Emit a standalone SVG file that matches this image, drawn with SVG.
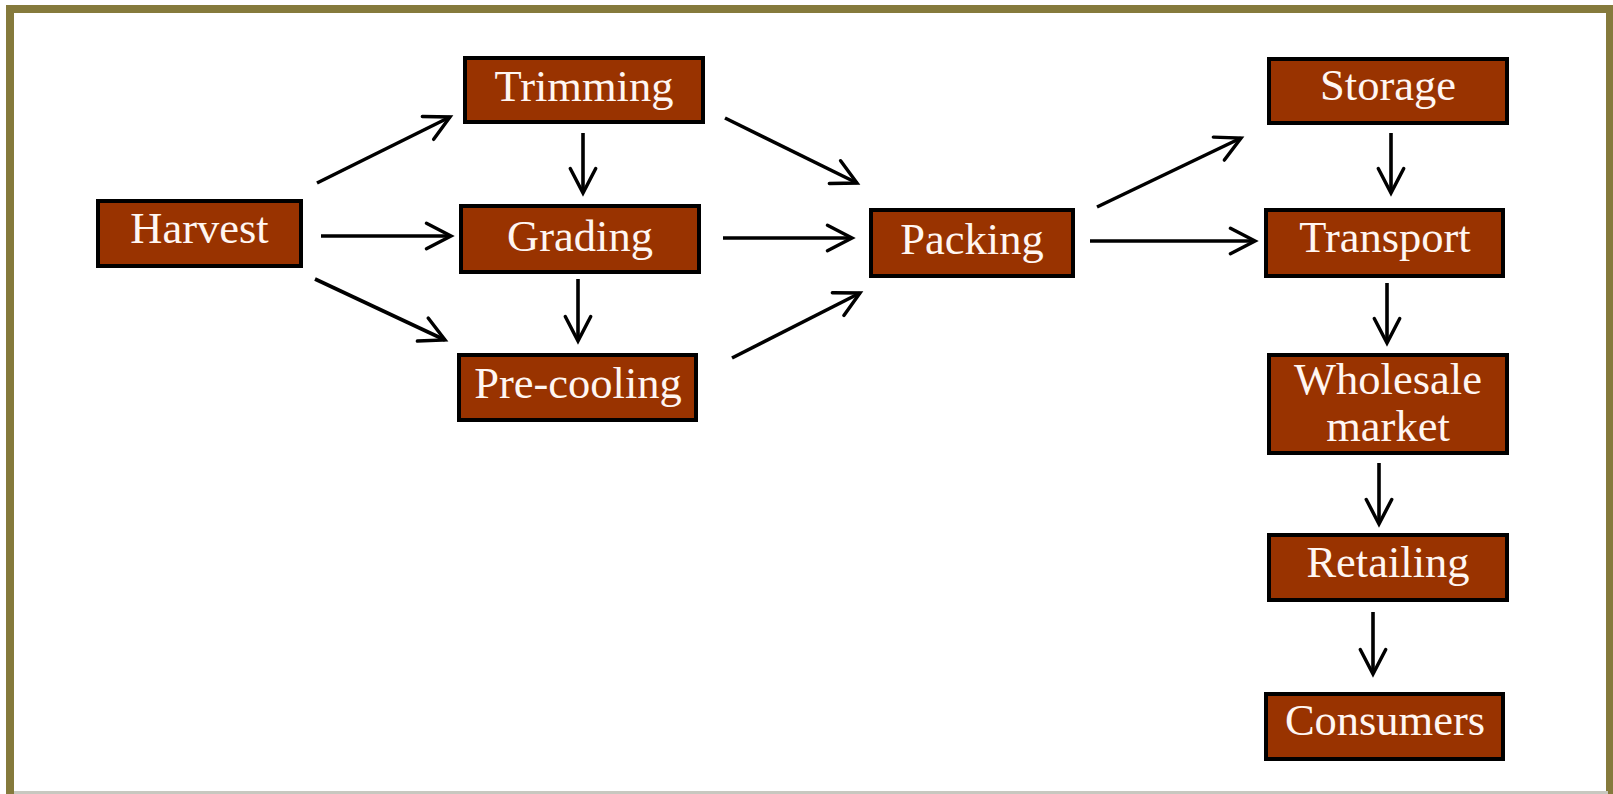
<svg xmlns="http://www.w3.org/2000/svg" width="1613" height="794" viewBox="0 0 1613 794">
<defs>
<marker id="ah" markerUnits="userSpaceOnUse" markerWidth="40" markerHeight="40" viewBox="-40 -20 44 40" refX="0" refY="0" orient="auto" overflow="visible">
<path d="M-27,-14 L0,0 L-27,14" fill="none" stroke="#000" stroke-width="3.8" stroke-linecap="round" stroke-linejoin="miter"/>
</marker>
<style>
.box{fill:#993300;stroke:#000;stroke-width:4}
.lbl{font-family:"Liberation Serif","Times New Roman",serif;font-size:44.5px;fill:#fff6f2;text-anchor:middle}
.ar{stroke:#000;stroke-width:3.6;fill:none;marker-end:url(#ah)}
</style>
</defs>
<rect x="0" y="0" width="1613" height="794" fill="#fff"/>
<rect x="10" y="9" width="1600" height="800" fill="none" stroke="#857a3c" stroke-width="8"/>
<line x1="14" y1="792.5" x2="1608" y2="792.5" stroke="#c8c8c0" stroke-width="3"/>

<g id="harvest"><rect class="box" x="98" y="201" width="203" height="65"/><text class="lbl" x="199.5" y="243">Harvest</text></g>
<g id="trimming"><rect class="box" x="465" y="58" width="238" height="64"/><text class="lbl" x="584" y="101">Trimming</text></g>
<g id="grading"><rect class="box" x="461" y="206" width="238" height="66"/><text class="lbl" x="580" y="251">Grading</text></g>
<g id="precooling"><rect class="box" x="459" y="355" width="237" height="65"/><text class="lbl" x="578" y="398">Pre-cooling</text></g>
<g id="packing"><rect class="box" x="871" y="210" width="202" height="66"/><text class="lbl" x="972" y="254">Packing</text></g>
<g id="storage"><rect class="box" x="1269" y="59" width="238" height="64"/><text class="lbl" x="1388" y="100">Storage</text></g>
<g id="transport"><rect class="box" x="1266" y="210" width="237" height="66"/><text class="lbl" x="1385" y="252">Transport</text></g>
<g id="wholesale"><rect class="box" x="1269" y="355" width="238" height="98"/><text class="lbl" x="1388" y="394">Wholesale</text><text class="lbl" x="1388" y="441">market</text></g>
<g id="retailing"><rect class="box" x="1269" y="535" width="238" height="65"/><text class="lbl" x="1388" y="577">Retailing</text></g>
<g id="consumers"><rect class="box" x="1266" y="694" width="237" height="65"/><text class="lbl" x="1385" y="735">Consumers</text></g>

<g id="connectors">
<line class="ar" x1="317" y1="183" x2="450" y2="117"/>
<line class="ar" x1="321" y1="236" x2="451" y2="236"/>
<line class="ar" x1="315" y1="279" x2="445" y2="340"/>
<line class="ar" x1="583" y1="133" x2="583" y2="193"/>
<line class="ar" x1="578" y1="279" x2="578" y2="341"/>
<line class="ar" x1="725" y1="118" x2="857" y2="183"/>
<line class="ar" x1="723" y1="238" x2="852" y2="238"/>
<line class="ar" x1="732" y1="358" x2="860" y2="293"/>
<line class="ar" x1="1097" y1="207" x2="1241" y2="138"/>
<line class="ar" x1="1090" y1="241" x2="1255" y2="241"/>
<line class="ar" x1="1391" y1="133" x2="1391" y2="193"/>
<line class="ar" x1="1387" y1="283" x2="1387" y2="343"/>
<line class="ar" x1="1379" y1="463" x2="1379" y2="524"/>
<line class="ar" x1="1373" y1="612" x2="1373" y2="674"/>
</g>
</svg>
